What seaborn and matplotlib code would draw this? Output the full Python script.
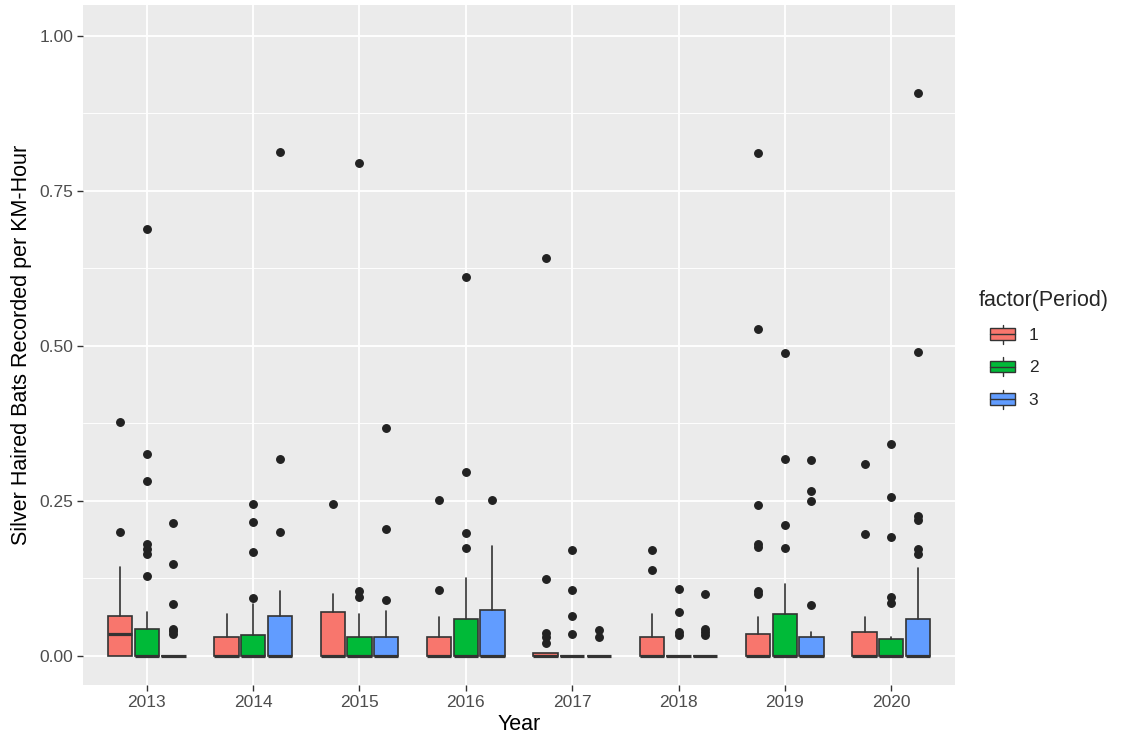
import matplotlib
matplotlib.use("Agg")
import matplotlib.pyplot as plt
from matplotlib.legend_handler import HandlerBase
from matplotlib.patches import Rectangle
from matplotlib.lines import Line2D
import seaborn as sns

# ---- data -------------------------------------------------------------
years = ["2013", "2014", "2015", "2016", "2017", "2018", "2019", "2020"]
periods = ["1", "2", "3"]

# box statistics per period (rows) and year (columns)
q1_vals = [
    [0, 0, 0, 0, 0, 0, 0, 0],
    [0, 0, 0, 0, 0, 0, 0, 0],
    [0, 0, 0, 0, 0, 0, 0, 0],
]
median_vals = [
    [0.035, 0, 0, 0, 0, 0, 0, 0],
    [0, 0, 0, 0, 0, 0, 0, 0],
    [0, 0, 0, 0, 0, 0, 0, 0],
]
q3_vals = [
    [0.065, 0.030, 0.070, 0.030, 0.004, 0.030, 0.035, 0.038],
    [0.043, 0.034, 0.030, 0.060, 0.0, 0.0, 0.067, 0.028],
    [0.0, 0.065, 0.030, 0.074, 0.0, 0.0, 0.030, 0.060],
]
whisker_low = [
    [0, 0, 0, 0, 0, 0, 0, 0],
    [0, 0, 0, 0, 0, 0, 0, 0],
    [0, 0, 0, 0, 0, 0, 0, 0],
]
whisker_high = [
    [0.143, 0.067, 0.099, 0.062, 0.004, 0.067, 0.063, 0.062],
    [0.070, 0.083, 0.067, 0.126, 0.0, 0.0, 0.116, 0.030],
    [0.0, 0.104, 0.072, 0.178, 0.0, 0.0, 0.038, 0.142],
]
outliers_p1 = [
    [0.200, 0.377],
    [],
    [0.245],
    [0.107, 0.252],
    [0.021, 0.030, 0.037, 0.124, 0.642],
    [0.138, 0.170],
    [0.100, 0.105, 0.175, 0.181, 0.243, 0.528, 0.812],
    [0.197, 0.309],
]
outliers_p2 = [
    [0.129, 0.165, 0.172, 0.180, 0.282, 0.325, 0.689],
    [0.093, 0.167, 0.216, 0.245],
    [0.095, 0.105, 0.795],
    [0.174, 0.199, 0.297, 0.612],
    [0.036, 0.065, 0.106, 0.170],
    [0.033, 0.038, 0.070, 0.108],
    [0.174, 0.211, 0.318, 0.489],
    [0.085, 0.095, 0.191, 0.257, 0.341],
]
outliers_p3 = [
    [0.035, 0.040, 0.044, 0.083, 0.149, 0.215],
    [0.200, 0.318, 0.813],
    [0.090, 0.205, 0.368],
    [0.252],
    [0.031, 0.041],
    [0.033, 0.039, 0.044, 0.099],
    [0.082, 0.250, 0.266, 0.316],
    [0.164, 0.172, 0.219, 0.226, 0.491, 0.908],
]
outliers = [outliers_p1, outliers_p2, outliers_p3]

# ---- style ------------------------------------------------------------
sns.set_theme(style="darkgrid", rc={
    "axes.facecolor": "#EBEBEB",
    "figure.facecolor": "white",
    "grid.color": "white",
})
plt.rcParams["font.family"] = ["Liberation Sans", "DejaVu Sans"]
palette = sns.color_palette(["#F8766D", "#00BA38", "#619CFF"])
edge = "#333333"
tick_size = 12.5
title_size = 15.5

fig = plt.figure(figsize=(11.24, 7.41), dpi=100)
ax = fig.add_axes([83 / 1124, 1 - 685 / 741, (955 - 83) / 1124, (685 - 5) / 741])

dodge = 0.25
box_w = 0.23
for j, per in enumerate(periods):
    stats = []
    pos = []
    for i, yr in enumerate(years):
        stats.append(dict(
            med=median_vals[j][i], q1=q1_vals[j][i], q3=q3_vals[j][i],
            whislo=whisker_low[j][i], whishi=whisker_high[j][i],
            fliers=outliers[j][i], label=yr,
        ))
        pos.append(i + (j - 1) * dodge)
    ax.bxp(
        stats, positions=pos, widths=box_w, patch_artist=True,
        showcaps=False, manage_ticks=False,
        boxprops=dict(facecolor=palette[j], edgecolor=edge, linewidth=1.2),
        medianprops=dict(color=edge, linewidth=2.3, solid_capstyle="butt"),
        whiskerprops=dict(color=edge, linewidth=1.2),
        flierprops=dict(marker="o", markerfacecolor="#222222",
                        markeredgecolor="#222222", markersize=5.4),
        zorder=3,
    )

# ---- axes -------------------------------------------------------------
ax.set_xlim(-0.6, len(years) - 0.4)
ax.set_ylim(-0.047, 1.05)
ax.set_xticks(range(len(years)))
ax.set_xticklabels(years)
ax.set_yticks([0, 0.25, 0.5, 0.75, 1.0])
ax.set_yticklabels(["0.00", "0.25", "0.50", "0.75", "1.00"])
ax.set_yticks([0.125, 0.375, 0.625, 0.875], minor=True)
ax.grid(True, which="major", axis="both", color="white", linewidth=1.3)
ax.grid(True, which="minor", axis="y", color="white", linewidth=0.65)
ax.grid(False, which="minor", axis="x")
ax.set_axisbelow(True)
for s in ax.spines.values():
    s.set_visible(False)
ax.tick_params(axis="both", which="major", length=4, width=1.0, color=edge,
               labelcolor="#4D4D4D", labelsize=tick_size, pad=3,
               bottom=True, left=True)
ax.tick_params(axis="both", which="minor", length=0)
ax.set_xlabel("")
ax.set_ylabel("")

fig.text(519 / 1124, 1 - 724 / 741, "Year", ha="center", va="center",
         fontsize=title_size, color="black")
fig.text(22 / 1124, 1 - 345 / 741, "Silver Haired Bats Recorded per KM-Hour",
         ha="center", va="center", rotation=90, fontsize=title_size,
         color="black")


# ---- legend with boxplot-shaped keys ----------------------------------
class BoxKey(HandlerBase):
    def create_artists(self, legend, orig_handle, xdescent, ydescent,
                       width, height, fontsize, trans):
        color = orig_handle.get_facecolor()
        x0 = -xdescent
        y0 = -ydescent
        bw = width * 0.52
        bx = x0 + (width - bw) / 2
        bh = height * 0.6
        by = y0 + (height - bh) / 2
        cx = x0 + width / 2
        rect = Rectangle((bx, by), bw, bh, facecolor=color, edgecolor=edge,
                         linewidth=1.0, transform=trans)
        med = Line2D([bx, bx + bw], [by + bh / 2] * 2, color=edge,
                     linewidth=1.0, transform=trans)
        wl = Line2D([cx, cx], [y0, by], color=edge,
                    linewidth=1.0, transform=trans)
        wh = Line2D([cx, cx], [by + bh, y0 + height], color=edge,
                    linewidth=1.0, transform=trans)
        return [wl, wh, rect, med]


handles = [Rectangle((0, 0), 1, 1, facecolor=palette[j]) for j in range(3)]
leg = fig.legend(
    handles, periods, handler_map={Rectangle: BoxKey()},
    title="factor(Period)", loc="upper left",
    bbox_to_anchor=(967 / 1124, 1 - 278 / 741), frameon=False,
    fontsize=tick_size, title_fontsize=title_size,
    handlelength=2.7, handleheight=1.3,
    labelspacing=0.78, handletextpad=0.15, borderpad=0.2,
)
leg._legend_box.align = "left"

fig.savefig("out.png", dpi=100)
